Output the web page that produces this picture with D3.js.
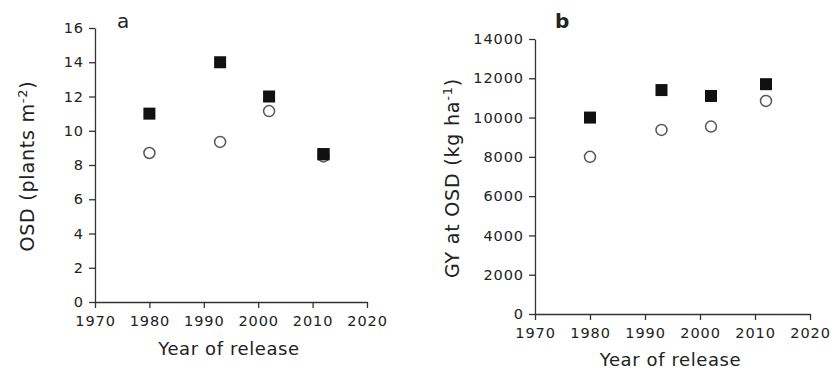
<!DOCTYPE html>
<html><head><meta charset="utf-8">
<script src="https://cdn.jsdelivr.net/npm/d3@7"></script>
<style>
body{margin:0;background:#fff;}
text{font-family:"DejaVu Sans",Verdana,sans-serif;fill:#222;}
</style></head>
<body><svg id="c" width="831" height="371"></svg>
<script>
const years = [1980, 1993, 2002, 2012];
const osdSquares = [11.0, 14.0, 12.0, 8.63];
const osdCircles = [8.7, 9.35, 11.15, 8.5];
const gySquares = [10000, 11400, 11100, 11700];
const gyCircles = [8000, 9370, 9540, 10850];
const xTicks = [1970, 1980, 1990, 2000, 2010, 2020];
const osdTicks = [0, 2, 4, 6, 8, 10, 12, 14, 16];
const gyTicks = [0, 2000, 4000, 6000, 8000, 10000, 12000, 14000];

const svg = d3.select("#c");

function panel(cfg){
  const g = svg.append("g");
  const x = d3.scaleLinear().domain([1970, 2020]).range([cfg.x0, cfg.x1]);
  const y = d3.scaleLinear().domain(cfg.ydom).range([cfg.y0, cfg.y1]);
  const xa = g.append("g").attr("transform", `translate(0,${cfg.y0})`)
    .call(d3.axisBottom(x).tickValues(xTicks).tickFormat(d3.format("d")).tickSize(6).tickSizeOuter(0).tickPadding(8));
  const ya = g.append("g").attr("transform", `translate(${cfg.x0},0)`)
    .call(d3.axisLeft(y).tickValues(cfg.yticks).tickFormat(d3.format("d")).tickSize(6).tickSizeOuter(0).tickPadding(5));
  [xa, ya].forEach(a => {
    a.selectAll("path,line").attr("stroke", "#333").attr("stroke-width", 1.3);
    a.selectAll("text").style("font-size", "14.5px").style("letter-spacing", "0.9px").attr("fill", "#222");
  });
  g.selectAll(".sq").data(years).enter().append("rect")
    .attr("x", (d) => x(d) - 6).attr("y", (d, i) => y(cfg.sq[i]) - 6)
    .attr("width", 12).attr("height", 12).attr("fill", "#111");
  g.selectAll(".ci").data(years).enter().append("circle")
    .attr("cx", d => x(d)).attr("cy", (d, i) => y(cfg.ci[i])).attr("r", 5.5)
    .attr("fill", "none").attr("stroke", "#555").attr("stroke-width", 1.5);
  g.selectAll(".sq2").data(years).enter().append("rect")
    .attr("x", (d) => x(d) - 6).attr("y", (d, i) => y(cfg.sq[i]) - 6)
    .attr("width", 12).attr("height", 12).attr("fill", "#111")
    .attr("display", (d, i) => Math.abs(y(cfg.sq[i]) - y(cfg.ci[i])) < 8 ? null : "none");
  g.append("text").attr("x", (cfg.x0 + cfg.x1) / 2 - 2).attr("y", cfg.xty)
    .attr("text-anchor", "middle").style("font-size", "18px").style("letter-spacing", "0.6px").text("Year of release");
  const yt = g.append("text").attr("transform", `translate(${cfg.tx},${cfg.ty}) rotate(-90)`)
    .attr("text-anchor", "middle").style("font-size", "19px").style("letter-spacing", "0.8px");
  yt.append("tspan").text(cfg.title);
  yt.append("tspan").attr("baseline-shift", "super").style("font-size", "13px").text(cfg.sup);
  yt.append("tspan").text(")");
  g.append("text").attr("x", cfg.lx).attr("y", 28).style("font-size", "20px")
    .style("font-weight", cfg.bold ? "bold" : "normal").text(cfg.label);
}

panel({x0: 95, x1: 367, y0: 302, y1: 28, ydom: [0, 16], yticks: osdTicks,
  sq: osdSquares, ci: osdCircles, tx: 34, ty: 166, xty: 355, title: "OSD (plants m", sup: "-2",
  label: "a", lx: 117, bold: false});
panel({x0: 535, x1: 810, y0: 314, y1: 39, ydom: [0, 14000], yticks: gyTicks,
  sq: gySquares, ci: gyCircles, tx: 459, ty: 178, xty: 366, title: "GY at OSD (kg ha", sup: "-1",
  label: "b", lx: 555, bold: true});
</script></body></html>
